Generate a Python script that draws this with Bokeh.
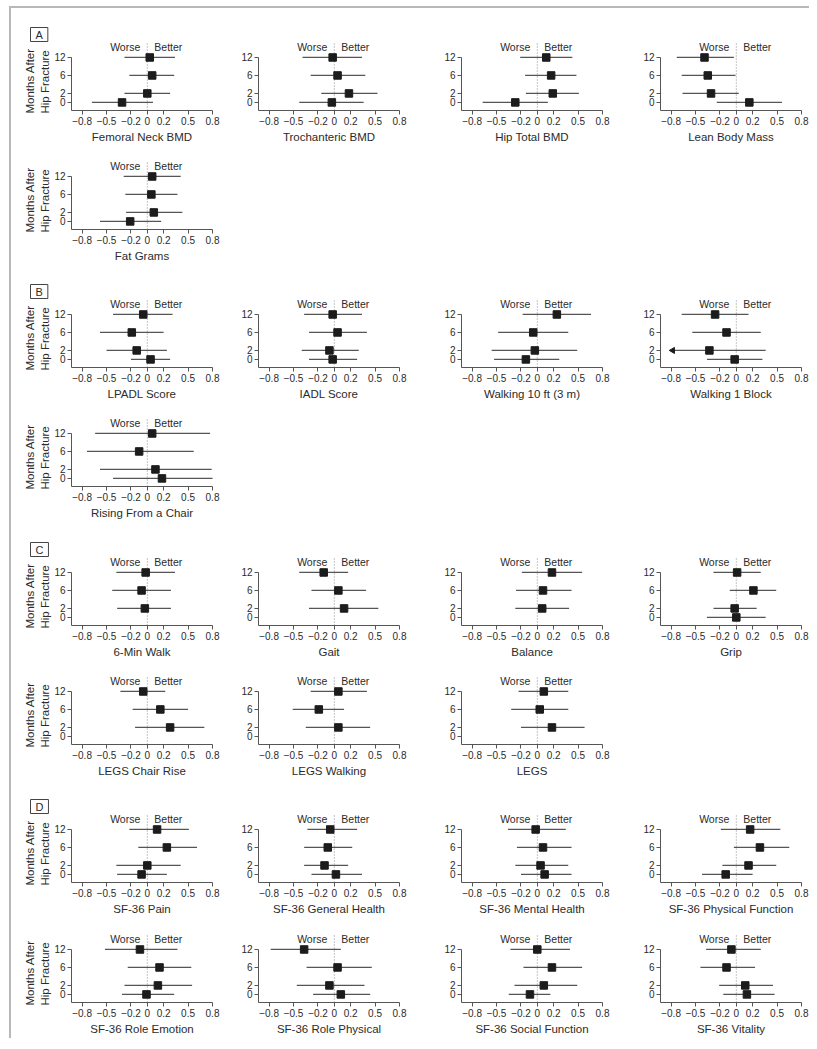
import math
from bokeh.plotting import figure
from bokeh.layouts import column, row
from bokeh.models import FixedTicker, Title
from bokeh.core.properties import value
from bokeh.embed import file_html
from bokeh.resources import INLINE

# ---------------- data ----------------
MONTHS = [12, 6, 2, 0]
MONTH_LABELS = ["12", "6", "2", "0"]
X_TICKS = [-0.8, -0.5, -0.2, 0, 0.2, 0.5, 0.8]
X_TICK_LABELS = ["\u22120.8", "\u22120.5", "\u22120.2", "0", "0.2", "0.5", "0.8"]
Y_TITLE_LINES = ["Months After", "Hip Fracture"]
WORSE, BETTER = "Worse", "Better"

# Panel A (order of values follows MONTHS: 12, 6, 2, 0)
femoral_neck_est = [0.03, 0.06, 0.00, -0.31]
femoral_neck_lo = [-0.28, -0.22, -0.28, -0.68]
femoral_neck_hi = [0.34, 0.33, 0.28, 0.07]
trochanteric_est = [-0.02, 0.04, 0.18, -0.03]
trochanteric_lo = [-0.39, -0.29, -0.16, -0.43]
trochanteric_hi = [0.34, 0.38, 0.53, 0.36]
hip_total_est = [0.11, 0.17, 0.19, -0.27]
hip_total_lo = [-0.21, -0.15, -0.14, -0.67]
hip_total_hi = [0.43, 0.48, 0.51, 0.13]
lean_mass_est = [-0.39, -0.35, -0.31, 0.16]
lean_mass_lo = [-0.73, -0.67, -0.66, -0.24]
lean_mass_hi = [-0.03, -0.01, 0.03, 0.56]
fat_grams_est = [0.06, 0.05, 0.08, -0.21]
fat_grams_lo = [-0.29, -0.27, -0.26, -0.58]
fat_grams_hi = [0.41, 0.37, 0.43, 0.17]

# Panel B
lpadl_est = [-0.05, -0.19, -0.13, 0.04]
lpadl_lo = [-0.42, -0.58, -0.50, -0.20]
lpadl_hi = [0.31, 0.20, 0.24, 0.28]
iadl_est = [-0.02, 0.04, -0.06, -0.02]
iadl_lo = [-0.37, -0.31, -0.40, -0.31]
iadl_hi = [0.34, 0.40, 0.30, 0.28]
walk10_est = [0.24, -0.05, -0.03, -0.14]
walk10_lo = [-0.18, -0.48, -0.56, -0.53]
walk10_hi = [0.66, 0.38, 0.49, 0.27]
walk_block_est = [-0.26, -0.12, -0.33, -0.02]
walk_block_lo = [-0.67, -0.54, -0.95, -0.36]
walk_block_hi = [0.15, 0.30, 0.36, 0.32]
rising_est = [0.06, -0.10, 0.10, 0.18]
rising_lo = [-0.64, -0.74, -0.58, -0.42]
rising_hi = [0.77, 0.57, 0.79, 0.81]

# Panel C
six_min_est = [-0.02, -0.07, -0.03, None]
six_min_lo = [-0.38, -0.43, -0.37, None]
six_min_hi = [0.34, 0.29, 0.29, None]
gait_est = [-0.13, 0.05, 0.12, None]
gait_lo = [-0.43, -0.28, -0.31, None]
gait_hi = [0.17, 0.39, 0.54, None]
balance_est = [0.18, 0.07, 0.06, None]
balance_lo = [-0.19, -0.26, -0.27, None]
balance_hi = [0.55, 0.42, 0.39, None]
grip_est = [0.01, 0.21, -0.02, 0.00]
grip_lo = [-0.28, -0.08, -0.28, -0.36]
grip_hi = [0.30, 0.49, 0.25, 0.36]
legs_chair_est = [-0.05, 0.16, 0.28, None]
legs_chair_lo = [-0.33, -0.18, -0.15, None]
legs_chair_hi = [0.22, 0.50, 0.70, None]
legs_walk_est = [0.05, -0.19, 0.05, None]
legs_walk_lo = [-0.29, -0.51, -0.35, None]
legs_walk_hi = [0.40, 0.12, 0.44, None]
legs_est = [0.08, 0.03, 0.18, None]
legs_lo = [-0.23, -0.32, -0.20, None]
legs_hi = [0.38, 0.38, 0.58, None]

# Panel D
pain_est = [0.12, 0.24, 0.00, -0.07]
pain_lo = [-0.22, -0.11, -0.38, -0.37]
pain_hi = [0.51, 0.61, 0.41, 0.24]
gen_health_est = [-0.05, -0.08, -0.12, 0.02]
gen_health_lo = [-0.33, -0.37, -0.37, -0.28]
gen_health_hi = [0.28, 0.22, 0.17, 0.34]
mental_est = [-0.02, 0.07, 0.04, 0.09]
mental_lo = [-0.36, -0.25, -0.27, -0.20]
mental_hi = [0.35, 0.42, 0.38, 0.42]
phys_func_est = [0.17, 0.29, 0.15, -0.13]
phys_func_lo = [-0.19, -0.03, -0.17, -0.42]
phys_func_hi = [0.54, 0.65, 0.49, 0.20]
role_emotion_est = [-0.09, 0.15, 0.13, -0.01]
role_emotion_lo = [-0.52, -0.24, -0.28, -0.31]
role_emotion_hi = [0.37, 0.54, 0.55, 0.33]
role_physical_est = [-0.37, 0.04, -0.06, 0.08]
role_physical_lo = [-0.78, -0.34, -0.46, -0.26]
role_physical_hi = [0.08, 0.46, 0.37, 0.44]
social_est = [0.00, 0.18, 0.08, -0.09]
social_lo = [-0.33, -0.17, -0.28, -0.35]
social_hi = [0.40, 0.55, 0.49, 0.16]
vitality_est = [-0.06, -0.12, 0.11, 0.13]
vitality_lo = [-0.37, -0.44, -0.21, -0.16]
vitality_hi = [0.30, 0.23, 0.45, 0.47]

PANELS = [
    ("A", [
        [("Femoral Neck BMD", femoral_neck_est, femoral_neck_lo, femoral_neck_hi),
         ("Trochanteric BMD", trochanteric_est, trochanteric_lo, trochanteric_hi),
         ("Hip Total BMD", hip_total_est, hip_total_lo, hip_total_hi),
         ("Lean Body Mass", lean_mass_est, lean_mass_lo, lean_mass_hi)],
        [("Fat Grams", fat_grams_est, fat_grams_lo, fat_grams_hi)],
    ]),
    ("B", [
        [("LPADL Score", lpadl_est, lpadl_lo, lpadl_hi),
         ("IADL Score", iadl_est, iadl_lo, iadl_hi),
         ("Walking 10 ft (3 m)", walk10_est, walk10_lo, walk10_hi),
         ("Walking 1 Block", walk_block_est, walk_block_lo, walk_block_hi)],
        [("Rising From a Chair", rising_est, rising_lo, rising_hi)],
    ]),
    ("C", [
        [("6-Min Walk", six_min_est, six_min_lo, six_min_hi),
         ("Gait", gait_est, gait_lo, gait_hi),
         ("Balance", balance_est, balance_lo, balance_hi),
         ("Grip", grip_est, grip_lo, grip_hi)],
        [("LEGS Chair Rise", legs_chair_est, legs_chair_lo, legs_chair_hi),
         ("LEGS Walking", legs_walk_est, legs_walk_lo, legs_walk_hi),
         ("LEGS", legs_est, legs_lo, legs_hi)],
    ]),
    ("D", [
        [("SF-36 Pain", pain_est, pain_lo, pain_hi),
         ("SF-36 General Health", gen_health_est, gen_health_lo, gen_health_hi),
         ("SF-36 Mental Health", mental_est, mental_lo, mental_hi),
         ("SF-36 Physical Function", phys_func_est, phys_func_lo, phys_func_hi)],
        [("SF-36 Role Emotion", role_emotion_est, role_emotion_lo, role_emotion_hi),
         ("SF-36 Role Physical", role_physical_est, role_physical_lo, role_physical_hi),
         ("SF-36 Social Function", social_est, social_lo, social_hi),
         ("SF-36 Vitality", vitality_est, vitality_lo, vitality_hi)],
    ]),
]

# ---------------- styling / layout ----------------
FONT = "Liberation Sans"
TEXT_C = "#2b2b2b"
AXIS_C = "#555555"
CI_C = "#555555"
SQ_C = "#1c1c1c"
SLOT = {12: 5, 6: 3, 2: 1, 0: 0}        # vertical slot of each follow-up month
X0, X1 = -0.93, 0.8
Y0, Y1 = -0.9, 7.0
ARROW_X = -0.78                        # where truncated intervals end with an arrow
FRAME_W, FRAME_H = 141, 71
COL_BORDERS = [(60, 20), (26, 35), (27, 32), (26, 8)]
ROW_BORDERS = [(31, 40), (8, 40), (27, 40), (8, 40), (28, 40), (8, 40), (27, 40), (9, 36)]


def set_panel_letter(p, letter):
    t = p.title
    t.text = letter
    t.align = "left"
    t.offset = -41
    t.text_font = FONT
    t.text_font_size = "11px"
    t.text_font_style = "normal"
    t.text_color = TEXT_C
    t.vertical_align = "bottom"
    try:
        t.standoff = -4
    except Exception:
        t.standoff = 0
    t.border_line_color = "#444444"
    t.border_line_width = 1
    t.background_fill_color = "white"
    try:
        t.padding = dict(x=5, y=1)
    except Exception:
        t.padding = 3


def add_y_title(p):
    # inner line first (next to the axis), then the outer line
    for line in reversed(Y_TITLE_LINES):
        p.add_layout(Title(text=line, align="left", offset=-3, standoff=1,
                           text_font=FONT, text_font_size="11.5px",
                           text_font_style="normal", text_color=TEXT_C), "left")


def make_fig(ci, ri, title, est, lo, hi, panel_letter):
    lb, rb = COL_BORDERS[ci]
    tb, bb = ROW_BORDERS[ri]
    p = figure(frame_width=FRAME_W, frame_height=FRAME_H,
               x_range=(X0, X1), y_range=(Y0, Y1),
               min_border_left=lb, min_border_right=rb,
               min_border_top=tb, min_border_bottom=bb,
               output_backend="svg", toolbar_location=None,
               background_fill_color=None, border_fill_color=None)
    p.outline_line_color = None
    p.grid.visible = False

    for ax in (p.xaxis[0], p.yaxis[0]):
        ax.axis_line_color = AXIS_C
        ax.major_tick_line_color = AXIS_C
        ax.minor_tick_line_color = None
        ax.major_tick_in = 0
        ax.major_tick_out = 4
        ax.major_label_text_font = FONT
        ax.major_label_text_font_size = "10px"
        ax.major_label_text_color = TEXT_C
        ax.major_label_standoff = 2
        ax.axis_label_text_font = FONT
        ax.axis_label_text_font_style = "normal"
        ax.axis_label_text_color = TEXT_C
        ax.axis_label_text_font_size = "11.5px"
    p.xaxis.ticker = FixedTicker(ticks=X_TICKS)
    p.xaxis.major_label_overrides = {t: s for t, s in zip(X_TICKS, X_TICK_LABELS)}
    p.xaxis.axis_label = title
    p.xaxis.axis_label_standoff = 3

    p.yaxis.ticker = FixedTicker(ticks=[SLOT[m] for m in MONTHS])
    p.yaxis.major_label_overrides = {SLOT[m]: s for m, s in zip(MONTHS, MONTH_LABELS)}
    p.yaxis.bounds = (Y0, SLOT[12])
    if ci == 0:
        add_y_title(p)

    p.segment(x0=[0], y0=[Y0], x1=[0], y1=[6.75], line_color="#8a8a8a",
              line_width=1, line_dash="1 2")
    p.text(x=[0], y=[6.2], text=[WORSE], text_align="right", text_baseline="middle",
           x_offset=-7, text_font=value(FONT), text_font_size="10.5px", text_color=TEXT_C)
    p.text(x=[0], y=[6.2], text=[BETTER], text_align="left", text_baseline="middle",
           x_offset=7, text_font=value(FONT), text_font_size="10.5px", text_color=TEXT_C)

    ys, es, los, his, arrows = [], [], [], [], []
    for m, e, l, h in zip(MONTHS, est, lo, hi):
        if e is None:
            continue
        y = SLOT[m]
        ys.append(y)
        es.append(e)
        if l < -0.8:
            los.append(ARROW_X)
            arrows.append(y)
        else:
            los.append(l)
        his.append(h)
    p.segment(x0=los, y0=ys, x1=his, y1=ys, line_color=CI_C, line_width=1.3)
    if arrows:
        p.scatter(x=[ARROW_X] * len(arrows), y=arrows, marker="triangle", size=6,
                  angle=math.pi / 2, fill_color=SQ_C, line_color=SQ_C)
    p.scatter(x=es, y=ys, marker="square", size=7.5, fill_color=SQ_C, line_color=SQ_C)

    if panel_letter:
        set_panel_letter(p, panel_letter)
    return p


rows = []
ri = 0
for letter, panel_rows in PANELS:
    for k, items in enumerate(panel_rows):
        figs = []
        for ci, (title, est, lo, hi) in enumerate(items):
            figs.append(make_fig(ci, ri, title, est, lo, hi,
                                 letter if (k == 0 and ci == 0) else None))
        rows.append(row(figs, spacing=0))
        ri += 1

layout = column(rows, spacing=0,
                styles={"margin-top": "6px", "margin-left": "9px",
                        "border-top": "2px solid #b8b8b8",
                        "border-left": "2px solid #b8b8b8"})

open("out.html", "w").write(file_html(layout, INLINE, title="Hip fracture outcomes"))
